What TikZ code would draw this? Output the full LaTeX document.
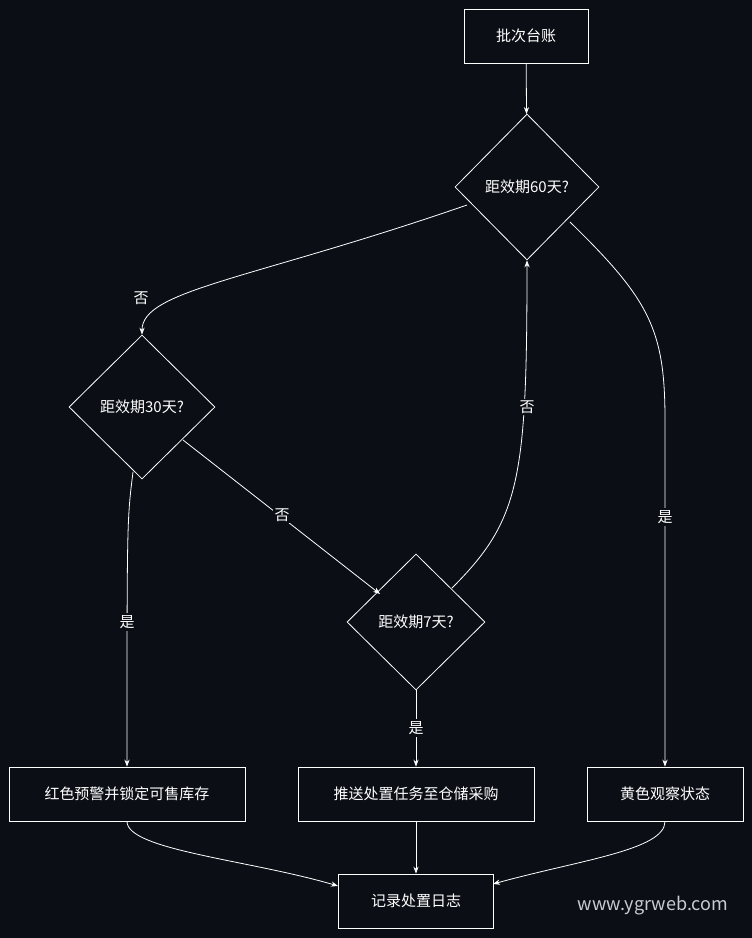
\documentclass[tikz,border=0pt]{standalone}
\usepackage{fontspec}
\setmainfont{Noto Sans CJK SC}
\usetikzlibrary{shapes.geometric,arrows.meta}
\definecolor{bg}{HTML}{0B0E14}
\definecolor{wm}{HTML}{C8CCD2}
\begin{document}
\begin{tikzpicture}[x=1pt,y=-1pt,
  box/.style={draw=white,thick,fill=bg,text=white,font=\fontsize{15}{17}\selectfont,minimum height=54pt,inner sep=0pt},
  dia/.style={draw=white,thick,fill=bg,text=white,diamond,font=\fontsize{15}{17}\selectfont,inner sep=0pt},
  ed/.style={draw=white,line width=0.8pt,-{Stealth[length=7pt]}},
  lb/.style={fill=bg,text=white,font=\fontsize{15}{17}\selectfont,inner sep=2pt}]
\fill[bg] (0,0) rectangle (752,938);
\node[box,minimum width=124pt] (a) at (526,36) {批次台账};
\node[dia,minimum width=144pt,minimum height=146pt] (d60) at (527,187) {距效期60天?};
\node[dia,minimum width=146pt,minimum height=144pt] (d30) at (142,407) {距效期30天?};
\node[dia,minimum width=138pt,minimum height=136pt] (d7) at (416,622) {距效期7天?};
\node[box,minimum width=236pt] (r) at (127,794) {红色预警并锁定可售库存};
\node[box,minimum width=236pt] (p) at (416,794) {推送处置任务至仓储采购};
\node[box,minimum width=156pt] (y) at (665,794) {黄色观察状态};
\node[box,minimum width=155pt] (l) at (416,901) {记录处置日志};
\node[text=wm,font=\fontsize{18}{20}\selectfont] (w) at (653,906) {www.ygrweb.com};
\coordinate (c1) at (467,205);
\coordinate (c2) at (570,222);
\coordinate (c3) at (133,472);
\coordinate (c4) at (183,440);
\coordinate (c5) at (452,588);
\draw[ed] (c1) .. controls (250,280) and (142,290) .. (d30.north);
\draw[ed] (c2) .. controls (650,300) and (665,330) .. (665,420) -- (y.north);
\draw[ed] (c3) .. controls (127,520) .. (r.north);
\draw[ed] (c4) -- (380,594);
\draw[ed] (c5) .. controls (520,520) and (527,480) .. (d60.south);
\draw[ed] (a) -- (d60);
\draw[ed] (d7.south) -- (p.north);
\draw[ed] (r.south) .. controls (127,850) and (250,860) .. (338,886);
\draw[ed] (p) -- (l);
\draw[ed] (y.south) .. controls (665,850) and (580,860) .. (493,884);
\node[lb] (l1) at (141,298) {否};
\node[lb] (l2) at (665,517) {是};
\node[lb] (l3) at (127,622) {是};
\node[lb] (l4) at (282,515) {否};
\node[lb] (l5) at (527,407) {否};
\node[lb] (l6) at (416,728) {是};
\end{tikzpicture}
\end{document}
